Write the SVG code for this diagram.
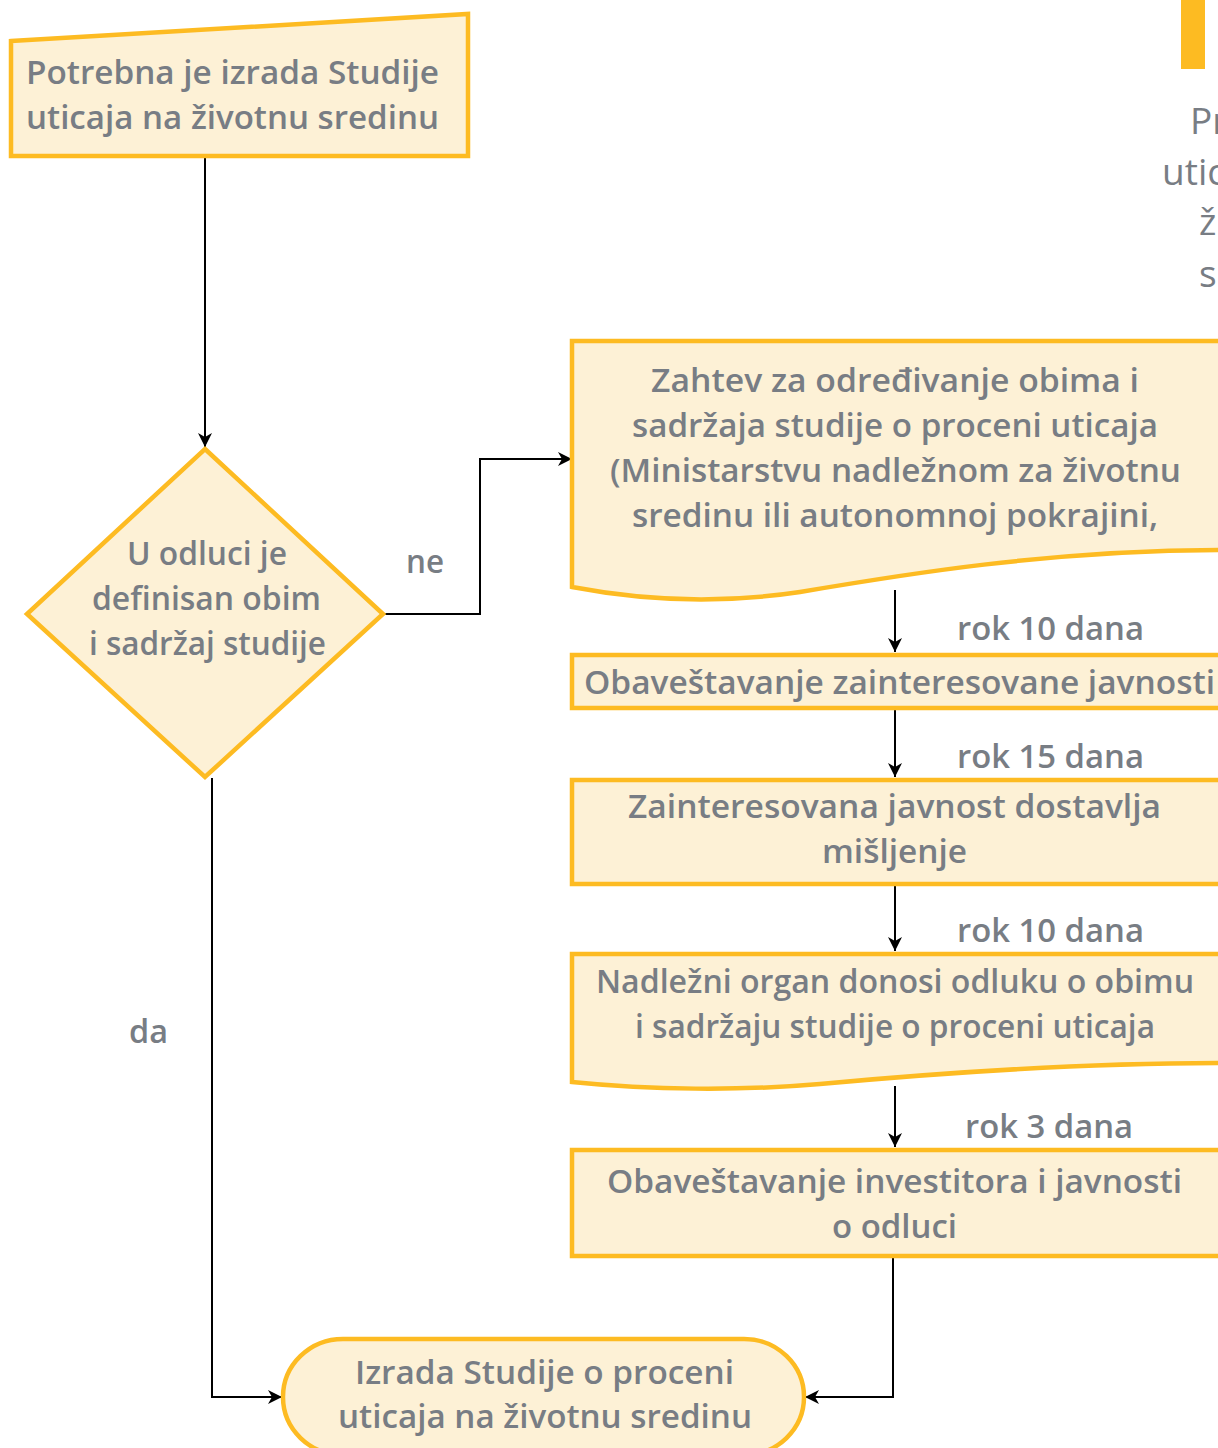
<svg xmlns="http://www.w3.org/2000/svg" width="1218" height="1448" viewBox="0 0 1218 1448">
<defs>
<style>
.box{fill:#FDF1D6;stroke:#FDBB22;stroke-width:4.5;}
.t{font-family:"Open Sans","Noto Sans",sans-serif;font-weight:600;font-size:33px;fill:#787D84;}
.lbl{font-family:"Open Sans","Noto Sans",sans-serif;font-weight:600;font-size:33px;fill:#787D84;}
.side{font-family:"Open Sans","Noto Sans",sans-serif;font-weight:400;font-size:37px;fill:#787D84;}
.c{fill:none;stroke:#000;stroke-width:2;}
</style>
<marker id="ah" markerUnits="userSpaceOnUse" markerWidth="16" markerHeight="14" refX="14" refY="7" orient="auto">
<path d="M0,0 L14,7 L0,14 L4,7 z" fill="#000"/>
</marker>
</defs>
<rect width="1218" height="1448" fill="#fff"/>

<g id="connectors">
<path class="c" d="M205,157 V447" marker-end="url(#ah)"/>
<path class="c" d="M383,614 H480 V459 H572" marker-end="url(#ah)"/>
<path class="c" d="M212,778 V1397 H282" marker-end="url(#ah)"/>
<path class="c" d="M895,590 V652" marker-end="url(#ah)"/>
<path class="c" d="M895,710 V777" marker-end="url(#ah)"/>
<path class="c" d="M895,886 V951" marker-end="url(#ah)"/>
<path class="c" d="M895,1086 V1147" marker-end="url(#ah)"/>
<path class="c" d="M893,1258 V1397 H805" marker-end="url(#ah)"/>
</g>

<g id="labels">
<text class="lbl" x="406" y="573" textLength="38" lengthAdjust="spacingAndGlyphs">ne</text>
<text class="lbl" x="129" y="1043" textLength="39" lengthAdjust="spacingAndGlyphs">da</text>
<text class="lbl" x="957" y="640" textLength="187" lengthAdjust="spacingAndGlyphs">rok 10 dana</text>
<text class="lbl" x="957" y="768" textLength="187" lengthAdjust="spacingAndGlyphs">rok 15 dana</text>
<text class="lbl" x="957" y="942" textLength="187" lengthAdjust="spacingAndGlyphs">rok 10 dana</text>
<text class="lbl" x="965" y="1138" textLength="168" lengthAdjust="spacingAndGlyphs">rok 3 dana</text>
</g>

<g id="side">
<rect x="1181" y="0" width="24" height="69" fill="#FDBB22"/>
<text class="side" x="1190" y="134">Pr</text>
<text class="side" x="1162" y="185">utic</text>
<text class="side" x="1199" y="235">ž</text>
<text class="side" x="1199" y="287">s</text>
</g>

<g id="n1">
<polygon class="box" points="11,41 468,14 468,156 11,156"/>
<text class="t" x="26" y="84" textLength="413" lengthAdjust="spacingAndGlyphs">Potrebna je izrada Studije</text>
<text class="t" x="26" y="129" textLength="413" lengthAdjust="spacingAndGlyphs">uticaja na životnu sredinu</text>
</g>

<g id="n2">
<polygon class="box" points="205,449 383,614 205,777 27,614"/>
<text class="t" x="127" y="565" textLength="160" lengthAdjust="spacingAndGlyphs">U odluci je</text>
<text class="t" x="92" y="610" textLength="229" lengthAdjust="spacingAndGlyphs">definisan obim</text>
<text class="t" x="89" y="655" textLength="237" lengthAdjust="spacingAndGlyphs">i sadržaj studije</text>
</g>

<g id="n3">
<path class="box" d="M572,341 H1222 V550 C1050,550 900,575 800,592 C720,604 640,600 572,587 Z"/>
<text class="t" x="651" y="392" textLength="488" lengthAdjust="spacingAndGlyphs">Zahtev za određivanje obima i</text>
<text class="t" x="632" y="437" textLength="526" lengthAdjust="spacingAndGlyphs">sadržaja studije o proceni uticaja</text>
<text class="t" x="610" y="482" textLength="571" lengthAdjust="spacingAndGlyphs">(Ministarstvu nadležnom za životnu</text>
<text class="t" x="632" y="527" textLength="526" lengthAdjust="spacingAndGlyphs">sredinu ili autonomnoj pokrajini,</text>
</g>

<g id="n4">
<rect class="box" x="572" y="655" width="650" height="53"/>
<text class="t" x="584" y="694" textLength="631" lengthAdjust="spacingAndGlyphs">Obaveštavanje zainteresovane javnosti</text>
</g>

<g id="n5">
<rect class="box" x="572" y="780" width="650" height="104"/>
<text class="t" x="628" y="818" textLength="533" lengthAdjust="spacingAndGlyphs">Zainteresovana javnost dostavlja</text>
<text class="t" x="822" y="863" textLength="145" lengthAdjust="spacingAndGlyphs">mišljenje</text>
</g>

<g id="n6">
<path class="box" d="M572,954 H1222 V1063 C1080,1063 950,1072 820,1084 C740,1091 650,1090 572,1082 Z"/>
<text class="t" x="596" y="993" textLength="598" lengthAdjust="spacingAndGlyphs">Nadležni organ donosi odluku o obimu</text>
<text class="t" x="635" y="1038" textLength="520" lengthAdjust="spacingAndGlyphs">i sadržaju studije o proceni uticaja</text>
</g>

<g id="n7">
<rect class="box" x="572" y="1150" width="650" height="106"/>
<text class="t" x="607" y="1193" textLength="575" lengthAdjust="spacingAndGlyphs">Obaveštavanje investitora i javnosti</text>
<text class="t" x="832" y="1238" textLength="125" lengthAdjust="spacingAndGlyphs">o odluci</text>
</g>

<g id="n8">
<rect class="box" x="283" y="1339" width="521" height="116" rx="60" ry="58"/>
<text class="t" x="355" y="1384" textLength="379" lengthAdjust="spacingAndGlyphs">Izrada Studije o proceni</text>
<text class="t" x="338" y="1428" textLength="414" lengthAdjust="spacingAndGlyphs">uticaja na životnu sredinu</text>
</g>
</svg>
